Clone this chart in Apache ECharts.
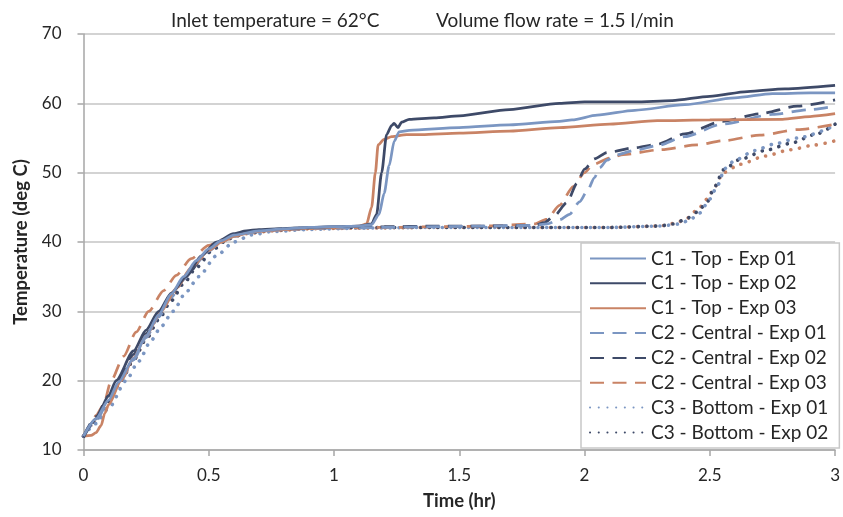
<!DOCTYPE html>
<html><head><meta charset="utf-8">
<script src="https://cdn.jsdelivr.net/npm/echarts@6/dist/echarts.min.js"></script>
<style>html,body{margin:0;padding:0;background:#fff}#c{width:843px;height:517px}</style>
</head><body><div id="c"></div>
<script>
// Temperature (deg C) vs Time (hr): [time, temperature]
const c1e1 = [[0,12],[0.05,14.5],[0.1,17.2],[0.14,19.8],[0.2,23.2],[0.25,26.5],[0.3,29.5],[0.35,32.5],[0.4,35],[0.45,37.3],[0.5,39],[0.55,40.2],[0.6,41],[0.7,41.6],[0.8,41.9],[0.9,42.1],[1.0,42.2],[1.1,42.3],[1.15,42.5],[1.18,44],[1.2,47],[1.22,51],[1.24,54.5],[1.26,55.9],[1.3,56.1],[1.5,56.5],[1.7,56.9],[1.9,57.4],[1.95,57.6],[2.05,58.3],[2.2,59],[2.4,59.8],[2.6,60.8],[2.75,61.4],[2.9,61.5],[3,61.5]];
const c1e2 = [[0,11.8],[0.05,14.5],[0.1,17.8],[0.13,20],[0.2,24.3],[0.25,27.3],[0.3,30],[0.35,32.6],[0.41,35],[0.47,38],[0.53,40],[0.6,41.2],[0.65,41.6],[0.7,41.8],[0.84,42],[1.0,42.2],[1.1,42.3],[1.15,42.6],[1.17,44],[1.19,50],[1.21,55.5],[1.23,56.8],[1.24,57.1],[1.255,56.5],[1.27,57.3],[1.3,57.7],[1.4,57.9],[1.5,58.2],[1.7,59.1],[1.9,60],[2.0,60.2],[2.2,60.2],[2.35,60.4],[2.5,61],[2.65,61.7],[2.8,62.1],[3,62.6]];
const c1e3 = [[0,12],[0.03,12.1],[0.05,12.5],[0.07,13.5],[0.085,15.3],[0.1,16.5],[0.15,20],[0.2,23.3],[0.25,26.5],[0.31,30],[0.37,33.3],[0.43,36.3],[0.5,38.8],[0.55,40],[0.6,40.8],[0.68,41.5],[0.8,41.8],[0.9,42],[1.0,42.1],[1.1,42.3],[1.13,42.6],[1.15,45],[1.165,50],[1.176,54],[1.2,54.8],[1.23,55.2],[1.29,55.5],[1.35,55.5],[1.5,55.7],[1.7,56],[1.9,56.5],[2.1,57],[2.29,57.5],[2.5,57.6],[2.79,57.7],[2.9,58.1],[3,58.5]];
const c2e1 = [[0,12],[0.05,14.2],[0.1,17],[0.15,20],[0.2,23],[0.25,26.2],[0.3,29.2],[0.35,32],[0.4,34.6],[0.45,37],[0.5,38.7],[0.55,40],[0.6,40.8],[0.7,41.5],[0.8,41.8],[1.0,42],[1.2,42.1],[1.4,42.2],[1.6,42.3],[1.8,42.4],[1.85,42.6],[1.9,43.2],[1.94,44],[1.98,45.8],[2.01,47.3],[2.04,49.3],[2.06,50.7],[2.09,51.8],[2.12,52.5],[2.2,53.2],[2.29,53.9],[2.4,55.2],[2.55,57],[2.75,58.4],[2.9,59.1],[3,59.6]];
const c2e2 = [[0,12],[0.05,14.8],[0.1,17.8],[0.14,20],[0.2,23.8],[0.25,26.8],[0.3,29.6],[0.36,32.8],[0.42,35.5],[0.48,38],[0.54,40],[0.6,41],[0.7,41.7],[0.85,42],[1.0,42.1],[1.2,42.2],[1.4,42.3],[1.6,42.3],[1.8,42.4],[1.84,42.8],[1.88,43.8],[1.93,45.7],[1.97,48.5],[2.0,50.5],[2.04,52],[2.09,52.9],[2.2,53.6],[2.29,54.1],[2.4,55.6],[2.55,57.4],[2.7,58.5],[2.85,59.6],[3,60.5]];
const c2e3 = [[0,12],[0.03,13.5],[0.05,15],[0.08,16.5],[0.11,20],[0.16,23.5],[0.21,27],[0.26,30],[0.32,33],[0.37,35.2],[0.43,37.6],[0.5,39.5],[0.55,40.3],[0.6,41],[0.7,41.6],[0.85,41.9],[1.0,42],[1.2,42.1],[1.4,42.2],[1.6,42.3],[1.8,42.6],[1.85,43.3],[1.9,45.3],[1.955,48],[2.0,50],[2.035,51.2],[2.1,52.1],[2.155,52.6],[2.3,53.3],[2.45,54],[2.55,54.6],[2.7,55.4],[2.85,56.2],[3,57]];
const c3e1 = [[0,12],[0.05,13.8],[0.1,16],[0.17,20],[0.22,22.8],[0.27,25.8],[0.31,27.8],[0.357,30],[0.41,32.8],[0.46,35],[0.53,38],[0.6,40],[0.67,41],[0.75,41.5],[0.9,41.8],[1.1,42],[1.4,42.1],[1.8,42.1],[2.1,42.1],[2.3,42.3],[2.38,42.6],[2.42,43.2],[2.46,44.2],[2.5,46.2],[2.53,48.1],[2.56,50.6],[2.6,51.8],[2.68,53.2],[2.754,54.1],[2.85,55],[3,56.8]];
const c3e2 = [[0,12],[0.05,14.3],[0.1,17],[0.15,20],[0.2,23],[0.25,26],[0.3,28.8],[0.35,31.5],[0.4,34],[0.45,36.3],[0.52,39],[0.58,40.5],[0.65,41.3],[0.75,41.7],[0.9,42],[1.1,42.1],[1.4,42.1],[1.8,42.1],[2.1,42.1],[2.3,42.3],[2.354,42.6],[2.4,43.2],[2.45,44.3],[2.49,45.8],[2.52,48],[2.554,50.4],[2.62,51.9],[2.72,53.2],[2.82,54.2],[2.92,55.5],[3,57]];
const c3e3 = [[0,12],[0.05,14.2],[0.1,17],[0.15,20],[0.2,23],[0.25,26],[0.3,29],[0.35,31.8],[0.4,34.4],[0.45,36.8],[0.5,38.8],[0.57,40.4],[0.65,41.2],[0.75,41.6],[0.9,41.9],[1.1,42],[1.4,42.1],[1.8,42.1],[2.1,42.1],[2.3,42.3],[2.36,42.7],[2.4,43.2],[2.45,44.6],[2.49,46.2],[2.52,48],[2.554,50],[2.62,51.2],[2.72,52.4],[2.82,53.3],[2.92,54],[3,54.6]];

const seriesNames = ['C1 - Top - Exp 01','C1 - Top - Exp 02','C1 - Top - Exp 03','C2 - Central - Exp 01','C2 - Central - Exp 02','C2 - Central - Exp 03','C3 - Bottom - Exp 01','C3 - Bottom - Exp 02','C3 - Bottom - Exp 03'];
const legendNames = seriesNames.slice(0, 8);
const seriesData = [c1e1, c1e2, c1e3, c2e1, c2e2, c2e3, c3e1, c3e2, c3e3];
const titleLeft = 'Inlet temperature = 62°C';
const titleRight = 'Volume flow rate = 1.5 l/min';

const colors = ['#7b96c2', '#3e4a68', '#c98365'];
const font = 'Lato, "Noto Sans", sans-serif';
const styles = [
  {type: 'solid', cap: 'butt', width: 2.75},
  {type: [14, 8.5], cap: 'butt', width: 2.75},
  {type: [0.1, 8.6], cap: 'round', width: 3.6}
];

const series = seriesData.map((d, i) => {
  const st = styles[Math.floor(i / 3)];
  return {
    name: seriesNames[i],
    type: 'line',
    data: d,
    showSymbol: false,
    symbol: 'circle',
    smooth: 0.25,
    smoothMonotone: 'x',
    color: colors[i % 3],
    lineStyle: {color: colors[i % 3], width: st.width, type: st.type, cap: st.cap},
    z: 10 - i
  };
});

const chart = echarts.init(document.getElementById('c'));
chart.setOption({
  animation: false,
  backgroundColor: '#fff',
  title: [
    {text: titleLeft, left: 171, top: 11, padding: 0, textStyle: {fontFamily: font, fontSize: 19, fontWeight: 'normal', color: '#262626'}},
    {text: titleRight, left: 436, top: 11, padding: 0, textStyle: {fontFamily: font, fontSize: 19, fontWeight: 'normal', color: '#262626'}}
  ],
  grid: {left: 83.5, right: 6.5, top: 34, bottom: 67, containLabel: false},
  legend: {
    data: legendNames,
    orient: 'vertical',
    left: 581, top: 243,
    backgroundColor: '#fff',
    borderColor: '#c8c8c8',
    borderWidth: 1.5,
    borderRadius: 0,
    padding: [6, 11, 6, 8],
    itemWidth: 56,
    itemHeight: 14,
    itemGap: 5.85,
    itemStyle: {opacity: 0},
    textStyle: {fontFamily: font, fontSize: 19, lineHeight: 19, color: '#262626'}
  },
  xAxis: {
    type: 'value', min: 0, max: 3, interval: 0.5,
    name: 'Time (hr)', nameLocation: 'middle', nameGap: 42,
    nameTextStyle: {fontFamily: font, fontSize: 18.5, fontWeight: 'bold', color: '#262626'},
    axisLine: {lineStyle: {color: '#a6a6a6', width: 1.5}},
    axisTick: {show: true, length: 6, lineStyle: {color: '#a6a6a6', width: 1.5}},
    axisLabel: {fontFamily: font, fontSize: 17, color: '#262626', margin: 17},
    splitLine: {show: false}
  },
  yAxis: {
    type: 'value', min: 10, max: 70, interval: 10,
    name: 'Temperature (deg C)', nameLocation: 'middle', nameGap: 51,
    nameTextStyle: {fontFamily: font, fontSize: 18.5, fontWeight: 'bold', color: '#262626'},
    axisLine: {show: true, lineStyle: {color: '#a6a6a6', width: 1.5}},
    axisTick: {show: true, length: 6, lineStyle: {color: '#a6a6a6', width: 1.5}},
    axisLabel: {fontFamily: font, fontSize: 17, color: '#262626', margin: 22},
    splitLine: {show: true, lineStyle: {color: '#c4c4c4', width: 1.5}}
  },
  series: series
});
</script></body></html>
